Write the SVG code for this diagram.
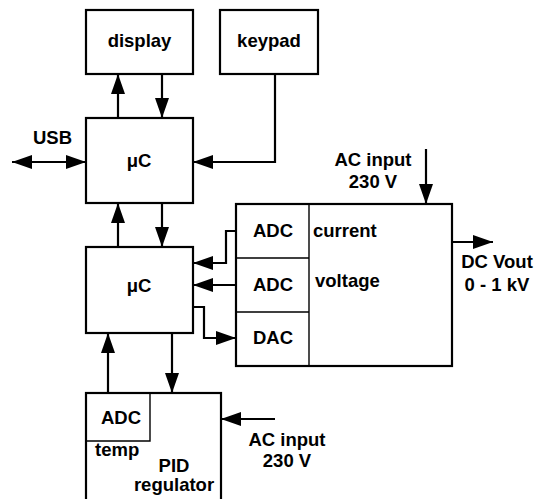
<svg xmlns="http://www.w3.org/2000/svg" width="538" height="499" viewBox="0 0 538 499">
<style>
.box{fill:#fff;stroke:#000;stroke-width:2.2}
.in{fill:none;stroke:#000;stroke-width:1.4}
.c{fill:none;stroke:#000;stroke-width:2.2}
text{font-family:"Liberation Sans",Arial,sans-serif;font-weight:bold;font-size:18.5px;fill:#000}
.m{text-anchor:middle}
</style>
<defs>
<marker id="ah" markerUnits="userSpaceOnUse" markerWidth="20" markerHeight="14" refX="20" refY="7" orient="auto">
<path d="M0,0 L20,7 L0,14 z" fill="#000"/>
</marker>
<marker id="as" markerUnits="userSpaceOnUse" markerWidth="20" markerHeight="14" refX="0" refY="7" orient="auto">
<path d="M20,0 L0,7 L20,14 z" fill="#000"/>
</marker>
</defs>
<g id="connectors">
<path class="c" d="M118,118 V74" marker-end="url(#ah)"/>
<path class="c" d="M162,74 V118" marker-end="url(#ah)"/>
<path class="c" d="M12,162 H86" marker-start="url(#as)" marker-end="url(#ah)"/>
<path class="c" d="M275,74 V162 H193" marker-end="url(#ah)"/>
<path class="c" d="M118,247 V203" marker-end="url(#ah)"/>
<path class="c" d="M162,203 V247" marker-end="url(#ah)"/>
<path class="c" d="M236,231 H226 V263 H193" marker-end="url(#ah)"/>
<path class="c" d="M236,285 H193" marker-end="url(#ah)"/>
<path class="c" d="M193,307 H204 V338 H236" marker-end="url(#ah)"/>
<path class="c" d="M426,149 V204" marker-end="url(#ah)"/>
<path class="c" d="M452,242 H493" marker-end="url(#ah)"/>
<path class="c" d="M108,393 V333" marker-end="url(#ah)"/>
<path class="c" d="M172,333 V393" marker-end="url(#ah)"/>
<path class="c" d="M275,419 H221" marker-end="url(#ah)"/>
</g>
<g id="display"><rect class="box" x="86" y="10" width="107" height="64"/><text class="m" x="139.5" y="47">display</text></g>
<g id="keypad"><rect class="box" x="220" y="10" width="98" height="64"/><text class="m" x="269" y="47">keypad</text></g>
<g id="uc1"><rect class="box" x="86" y="118" width="107" height="85"/><text class="m" x="139" y="167">μC</text></g>
<g id="usb"><text x="33" y="144">USB</text></g>
<g id="uc2"><rect class="box" x="86" y="247" width="107" height="86"/><text class="m" x="139" y="292">μC</text></g>
<g id="power">
<rect class="box" x="236" y="204" width="216" height="162"/>
<path class="in" d="M309,204 V366 M236,258 H309 M236,312 H309"/>
<text class="m" x="273" y="237">ADC</text>
<text class="m" x="273" y="291">ADC</text>
<text class="m" x="273" y="344">DAC</text>
<text x="313" y="237">current</text>
<text x="315" y="287">voltage</text>
</g>
<g id="ac1"><text class="m" x="373" y="166">AC input</text><text class="m" x="373" y="188">230 V</text></g>
<g id="dcout"><text class="m" x="497" y="268">DC Vout</text><text class="m" x="497" y="291">0 - 1 kV</text></g>
<g id="pid">
<rect class="box" x="86" y="393" width="135" height="120"/>
<path class="in" d="M86,441 H150 V393"/>
<text class="m" x="121" y="424">ADC</text>
<text x="95" y="456">temp</text>
<text class="m" x="174" y="472">PID</text>
<text class="m" x="174" y="491">regulator</text>
</g>
<g id="ac2"><text class="m" x="287" y="446">AC input</text><text class="m" x="287" y="467">230 V</text></g>
</svg>
